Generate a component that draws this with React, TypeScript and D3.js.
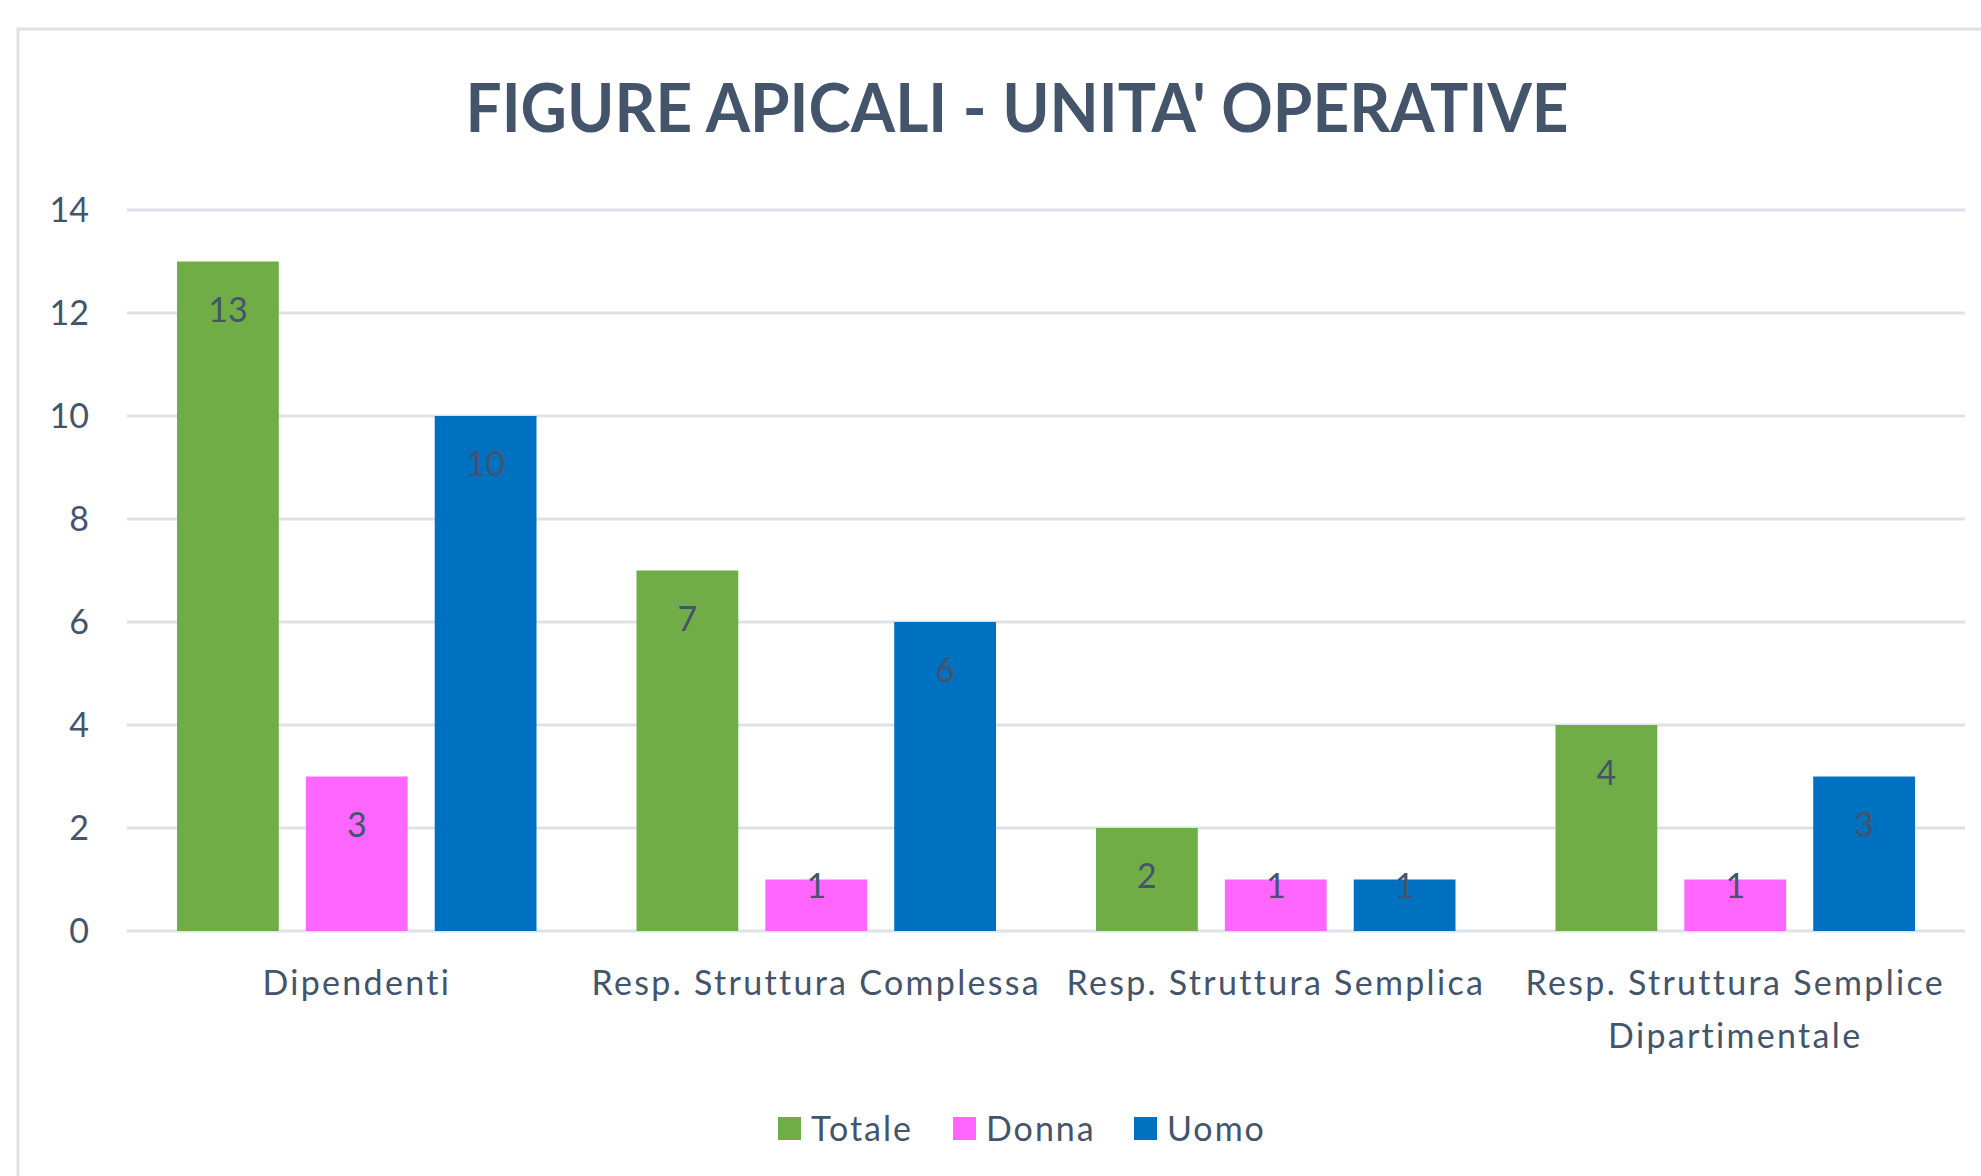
import React, { useEffect, useRef } from "react";
import * as d3 from "d3";

const categories = [
  ["Dipendenti"],
  ["Resp. Struttura Complessa"],
  ["Resp. Struttura Semplica"],
  ["Resp. Struttura Semplice", "Dipartimentale"],
];
const seriesNames = ["Totale", "Donna", "Uomo"];
const totale = [13, 7, 2, 4];
const donna = [3, 1, 1, 1];
const uomo = [10, 6, 1, 3];
const yTicks = [0, 2, 4, 6, 8, 10, 12, 14];
const colors = ["#70AD47", "#FF66FF", "#0070C0"];

const TEXT = "#44546A";
const GRID = "#DDE1E8";
const FONT = "Lato, 'Open Sans', sans-serif";

const App = () => {
  const svgRef = useRef<SVGSVGElement>(null);

  useEffect(() => {
    const w = 1981;
    const h = 1176;
    const plot = { left: 127, right: 1965, top: 210, bottom: 931 };

    const svg = d3.select(svgRef.current);
    svg.selectAll("*").remove();

    // outer chart frame (cropped on right and bottom)
    svg.append("rect")
      .attr("x", 18).attr("y", 29)
      .attr("width", w).attr("height", h)
      .attr("fill", "white")
      .attr("stroke", GRID)
      .attr("stroke-width", 3);

    svg.append("text")
      .attr("x", 1017).attr("y", 132)
      .attr("text-anchor", "middle")
      .attr("font-family", FONT)
      .attr("font-weight", 700)
      .attr("font-size", 66)
      .attr("fill", TEXT)
      .attr("textLength", 1103)
      .attr("lengthAdjust", "spacingAndGlyphs")
      .text("FIGURE APICALI - UNITA' OPERATIVE");

    const idx = categories.map((_, i) => String(i));
    const x0 = d3.scaleBand().domain(idx).range([plot.left, plot.right]).paddingInner(0).paddingOuter(0);
    const x1 = d3.scaleBand().domain(seriesNames).range([50, x0.bandwidth() - 50]).paddingInner(0.21);
    const y = d3.scaleLinear().domain([0, 14]).range([plot.bottom, plot.top]);

    // gridlines
    svg.append("g")
      .selectAll("line")
      .data(yTicks)
      .join("line")
      .attr("x1", plot.left).attr("x2", plot.right)
      .attr("y1", d => y(d)).attr("y2", d => y(d))
      .attr("stroke", GRID)
      .attr("stroke-width", 3);

    // y tick labels
    svg.append("g")
      .selectAll("text")
      .data(yTicks)
      .join("text")
      .attr("x", 89)
      .attr("y", d => y(d))
      .attr("dy", "0.36em")
      .attr("text-anchor", "end")
      .attr("font-family", FONT)
      .attr("font-size", 34)
      .attr("fill", TEXT)
      .text(d => d);

    const values = [totale, donna, uomo];
    const bars = categories.flatMap((_, ci) =>
      seriesNames.map((s, si) => ({ ci, s, si, v: values[si][ci] }))
    );

    const g = svg.append("g");
    g.selectAll("rect")
      .data(bars)
      .join("rect")
      .attr("x", d => (x0(String(d.ci)) as number) + (x1(d.s) as number))
      .attr("y", d => y(d.v))
      .attr("width", x1.bandwidth())
      .attr("height", d => y(0) - y(d.v))
      .attr("fill", d => colors[d.si]);

    // data labels, inside end
    g.selectAll("text")
      .data(bars)
      .join("text")
      .attr("x", d => (x0(String(d.ci)) as number) + (x1(d.s) as number) + x1.bandwidth() / 2)
      .attr("y", d => {
        const bh = y(0) - y(d.v);
        return y(d.v) + (bh < 80 ? 6 : 48);
      })
      .attr("dy", "0.36em")
      .attr("text-anchor", "middle")
      .attr("font-family", FONT)
      .attr("font-size", 34)
      .attr("fill", TEXT)
      .text(d => d.v);

    // category labels
    const cat = svg.append("g")
      .selectAll("text")
      .data(categories)
      .join("text")
      .attr("text-anchor", "middle")
      .attr("font-family", FONT)
      .attr("font-size", 34)
      .attr("fill", TEXT)
      .attr("transform", (_, i) => `translate(${(x0(String(i)) as number) + x0.bandwidth() / 2}, 983)`);
    cat.selectAll("tspan")
      .data(d => d)
      .join("tspan")
      .attr("x", 0)
      .attr("y", (_, i) => i * 53)
      .attr("dy", "0.36em")
      .attr("letter-spacing", 2.3)
      .text(d => d);

    // legend
    const legendX = [778, 953, 1134];
    const lg = svg.append("g")
      .selectAll("g")
      .data(seriesNames)
      .join("g")
      .attr("transform", (_, i) => `translate(${legendX[i]}, 1117)`);
    lg.append("rect")
      .attr("width", 23).attr("height", 23)
      .attr("fill", (_, i) => colors[i]);
    lg.append("text")
      .attr("x", 33).attr("y", 12)
      .attr("dy", "0.36em")
      .attr("font-family", FONT)
      .attr("font-size", 34)
      .attr("letter-spacing", 2)
      .attr("fill", TEXT)
      .text(d => d);
  }, []);

  return (
    <svg
      ref={svgRef}
      width={1981}
      height={1176}
      style={{ position: "absolute", left: 0, top: 0, display: "block", background: "white" }}
    />
  );
};

export default App;
